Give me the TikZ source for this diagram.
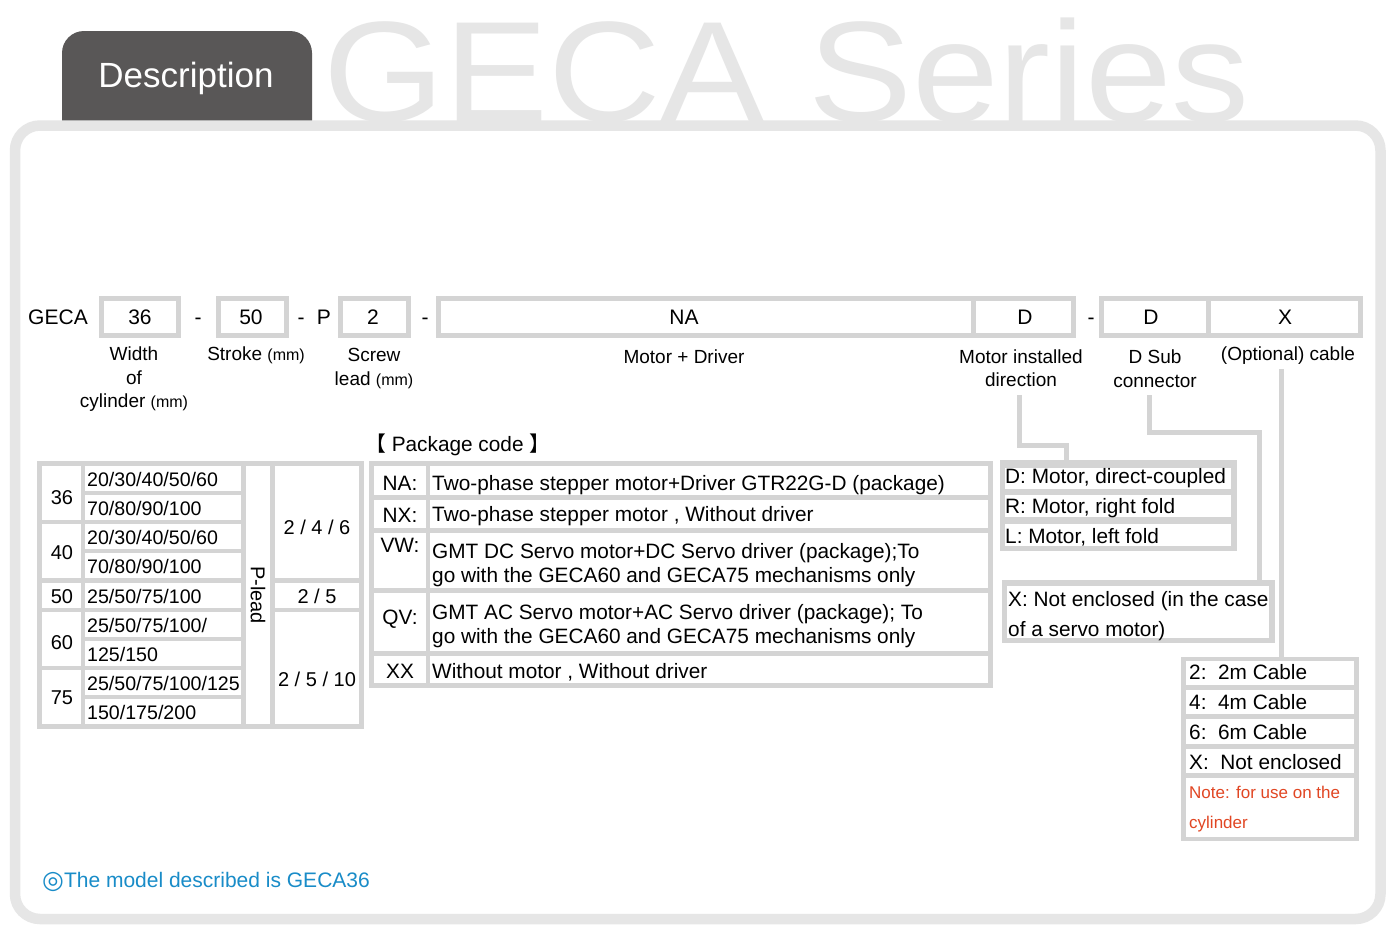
\documentclass[tikz,border=0pt]{standalone}
\usepackage{fontspec}
\usepackage{graphicx}
\setmainfont{Liberation Sans}
\newfontfamily\cjkfont{Noto Sans CJK SC}
\newfontfamily\symfont{DejaVu Sans}
\usetikzlibrary{calc}
\definecolor{framegray}{RGB}{230,230,230}
\definecolor{boxgray}{RGB}{212,212,212}
\definecolor{tabgray}{RGB}{89,87,87}
\definecolor{notered}{RGB}{225,70,35}
\definecolor{noteblue}{RGB}{25,140,200}
\newcommand\fsz[2]{\fontsize{#1}{#2}\selectfont}

\begin{document}
\begin{tikzpicture}[x=1pt, y=-1pt,
    codebox/.style={draw=boxgray, line width=5pt, minimum height=37, inner sep=0pt},
    codetxt/.style={font=\fsz{21}{25}, inner sep=0pt, anchor=base},
    lbl/.style={font=\fsz{19}{23.5}, align=center, inner sep=0pt},
    graybg/.style={fill=boxgray, inner sep=0pt, outer sep=0pt},
    tabtxt/.style={font=\fsz{20.8}{24}, inner sep=0pt},
    conn/.style={boxgray, line width=5pt}]
    \useasboundingbox (0,0) rectangle (1395,935);
    \fill[white] (0,0) rectangle (1395,935);

    % Heading: series name and tab
    \node[anchor=base west, inner sep=0pt, text=framegray, font=\fsz{143}{143}] (series) at (323,121) {\scalebox{1.09}[1]{GECA Series}};
    \fill[tabgray] (62,121) [rounded corners=22] -- (62,31) -- (312,31) [sharp corners] -- (312,121) -- cycle;
    \node[text=white, font=\fsz{35}{40}] (desc) at (186,78) {Description};

    % Frame
    \draw[framegray, line width=10.5pt, rounded corners=25] (15,125.5) rectangle (1380.5,919);

    % Model code row
    \node[codebox, minimum width=77] (bwid) at (140,317) {};
    \node[codebox, minimum width=68] (bstr) at (252.5,317) {};
    \node[codebox, minimum width=68] (blead) at (374.5,317) {};
    \node[codebox, minimum width=535] (bpkg) at (706,317) {};
    \node[codebox, minimum width=100] (bdir) at (1023.5,317) {};
    \node[codebox, minimum width=106.5] (bsub) at (1154.75,317) {};
    \node[codebox, minimum width=152.5] (bcab) at (1284.25,317) {};
    \foreach \t/\x/\n in {GECA/58/geca, 36/140/cwid, -/198/dasha, 50/251/cstr, -/301/dashb, P/324/pch,
        2/373/clead, -/425/dashc, NA/684/cpkg, D/1025/cdir, -/1091/dashd, D/1151/csub, X/1285/ccab}
        \node[codetxt] (\n) at (\x,324.5) {\t};

    % Labels under the code
    \node[lbl] (lwid) at (134,379.5) {Width\\of\\cylinder {\fsz{16}{20}(mm)}};
    \node[lbl, anchor=base] (lstr) at (256,360) {Stroke {\fsz{16}{20}(mm)}};
    \node[lbl] (llead) at (374,368.5) {Screw\\lead {\fsz{16}{20}(mm)}};
    \node[lbl, anchor=base] (lpkg) at (684,363) {Motor + Driver};
    \node[lbl] (ldir) at (1021,368) {Motor installed\\direction};
    \node[lbl] (lsub) at (1155,368.5) {D Sub\\connector};
    \node[lbl, anchor=base] (lcab) at (1288,360) {(Optional) cable};

    % Option boxes (gray back)
    \node[graybg, minimum width=327, minimum height=268] (sizetab) at (200.5,595) {};
    \node[graybg, minimum width=624, minimum height=227] (pkgtab) at (681,574.5) {};
    \node[graybg, minimum width=237, minimum height=91] (drlbox) at (1118.5,505.5) {};
    \node[graybg, minimum width=273, minimum height=63] (xbox) at (1138.5,611.5) {};
    \node[graybg, minimum width=178, minimum height=184] (cabbox) at (1270,749) {};

    % Connectors
    \draw[conn] ([xshift=-2,yshift=-8]ldir.south) -- ++(0,51) -| ([xshift=-52.5]drlbox.north);
    \draw[conn] ([xshift=-6,yshift=-8]lsub.south) -- ++(0,37.5) -| ([xshift=120.5]xbox.north);
    \draw[conn] ([xshift=-7,yshift=-5]lcab.south) coordinate (cabtop) -- (cabtop |- cabbox.north);

    % Size / stroke / lead table
    \foreach \i in {0,...,8}
        \fill[white] (85,{466+29.15*\i}) rectangle (241,{491+29.15*\i});
    \foreach \a/\b in {0/1,2/3,4/4,5/6,7/8}
        \fill[white] (42,{466+29.15*\a}) rectangle (81,{491+29.15*\b});
    \fill[white] (246,466) rectangle (270,724.2);
    \foreach \a/\b in {0/3,4/4,5/8}
        \fill[white] (275,{466+29.15*\a}) rectangle (359,{491+29.15*\b});
    \foreach \i/\t in {0/{20/30/40/50/60},1/{70/80/90/100},2/{20/30/40/50/60},3/{70/80/90/100},4/{25/50/75/100},5/{25/50/75/100/},6/{125/150},7/{25/50/75/100/125},8/{150/175/200}}
        \node[tabtxt, font=\fsz{19.6}{24}, anchor=base west] (st\i) at (87,{486.5+29.15*\i}) {\t};
    \foreach \t/\y in {36/504,40/559,50/603,60/649,75/704}
        \node[tabtxt, font=\fsz{20}{24}, anchor=base] (sz\t) at (62,\y) {\t};
    \node[tabtxt, font=\fsz{20}{24}, rotate=-90] (plead) at (258,595) {P-lead};
    \node[tabtxt, font=\fsz{20}{24}, anchor=base] (lda) at (317,534) {2 / 4 / 6};
    \node[tabtxt, font=\fsz{20}{24}, anchor=base] (ldb) at (317,603) {2 / 5};
    \node[tabtxt, font=\fsz{20}{24}, anchor=base] (ldc) at (317,686) {2 / 5 / 10};

    % Package code table
    \node[tabtxt, anchor=base west] (pkgtitle) at (365,451.3) {{\cjkfont 【} Package code {\cjkfont 】}};
    \foreach \t/\b in {466/495,500/528,533/588,593/651,656/683} {
        \fill[white] (374,\t) rectangle (426,\b);
        \fill[white] (430,\t) rectangle (988,\b);
    }
    \foreach \c/\y in {NA/490,NX/522,VW/552,QV/624}
        \node[tabtxt, anchor=base] (c\c) at (400,\y) {\c:};
    \node[tabtxt, anchor=base] (cXX) at (400,678) {XX};
    \node[tabtxt, anchor=base west] (dNA) at (432,490) {Two-phase stepper motor+Driver GTR22G-D (package)};
    \node[tabtxt, anchor=base west] (dNX) at (432,521) {Two-phase stepper motor , Without driver};
    \node[tabtxt, anchor=west, align=left] (dVW) at (432,565) {GMT DC Servo motor+DC Servo driver (package);To\\go with the GECA60 and GECA75 mechanisms only};
    \node[tabtxt, anchor=west, align=left] (dQV) at (432,626) {GMT AC Servo motor+AC Servo driver (package); To\\go with the GECA60 and GECA75 mechanisms only};
    \node[tabtxt, anchor=base west] (dXX) at (432,678) {Without motor , Without driver};

    % Motor direction box
    \foreach \t/\b in {468/489,495/517,524/546}
        \fill[white] (1005,\t) rectangle (1231,\b);
    \node[tabtxt, anchor=base west] (dirD) at (1005,483.5) {D: Motor, direct-coupled};
    \node[tabtxt, anchor=base west] (dirR) at (1005,513.5) {R: Motor, right fold};
    \node[tabtxt, anchor=base west] (dirL) at (1005,543.5) {L: Motor, left fold};

    % D Sub box
    \fill[white] (1007,586) rectangle (1269,638);
    \node[tabtxt, font=\fsz{20.8}{30}, anchor=west, align=left] (subX) at (1008,616) {X: Not enclosed (in the case\\of a servo motor)};

    % Cable box
    \foreach \t/\b in {661/685,690/714,719/744,749/773,778/837}
        \fill[white] (1186,\t) rectangle (1354,\b);
    \foreach \c/\t [count=\k from 0] in {2/2m Cable,4/4m Cable,6/6m Cable,X/Not enclosed}
        \node[tabtxt, anchor=base west] (cab\k) at (1189,{679+30*\k}) {\c:~~\t};
    \node[tabtxt, font=\fsz{17}{30}, text=notered, anchor=west, align=left] (cabnote) at (1189,809.5) {Note: for use on the\\cylinder};

    % Model note
    \node[tabtxt, font=\fsz{21}{25}, text=noteblue, anchor=base west] (model) at (42,887.5) {{\symfont\fsz{25}{25}\raisebox{-1pt}{◎}}The model described is GECA36};
\end{tikzpicture}
\end{document}
